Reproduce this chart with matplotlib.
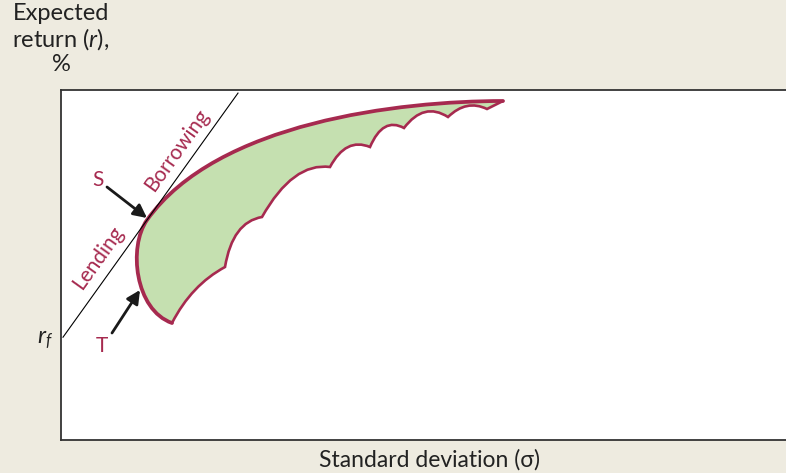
import matplotlib
matplotlib.use("Agg")
import matplotlib.pyplot as plt
from matplotlib.path import Path
from matplotlib.patches import PathPatch

plt.rcParams['font.family'] = ['Lato', 'DejaVu Sans']
plt.rcParams['mathtext.fontset'] = 'custom'
plt.rcParams['mathtext.rm'] = 'Lato'
plt.rcParams['mathtext.it'] = 'Lato:italic'

bg = '#eeebe0'
crimson = '#a62a4f'
green = '#c5e0b0'

# chart units: sigma 0..725, return 0..350 (schematic)
rf = 100
tangent_x = [2, 177]
tangent_slope = 1.395

# outer frontier: bottom tip -> left bulge -> S (tangency) -> right tip  (cubic bezier controls)
frontier_pts = [(111, 117), (74, 130), (67, 193), (86, 220),
                (156, 318), (339, 339), (442, 339)]
# lower scalloped boundary: right tip back to bottom tip (quadratic controls)
cusps = [(426, 331), (387, 323), (343, 312), (309, 293), (269, 273),
         (201, 223), (164, 173), (111, 117)]
bumps = [(405.5, 341), (363, 338.5), (322, 323.5), (285, 303),
         (232, 278), (171.5, 218), (130.5, 155)]

S_point = (86, 222)
T_point = (79, 150)

fig = plt.figure(figsize=(7.86, 4.73), dpi=100, facecolor=bg)
ax = fig.add_axes([61 / 786, 33 / 473, 725 / 786, 350 / 473])
ax.set_xlim(0, 725)
ax.set_ylim(0, 350)
ax.set_facecolor('white')

# build paths
outer_verts = list(frontier_pts)
outer_codes = [Path.MOVETO] + [Path.CURVE4] * 6
lower_verts = [frontier_pts[-1], cusps[0]]
lower_codes = [Path.MOVETO, Path.LINETO]
for b, c in zip(bumps, cusps[1:]):
    lower_verts += [b, c]
    lower_codes += [Path.CURVE3, Path.CURVE3]

fill_path = Path(outer_verts + lower_verts[1:],
                 outer_codes + lower_codes[1:])
ax.add_patch(PathPatch(fill_path, facecolor=green, edgecolor='none', zorder=1))
ax.add_patch(PathPatch(Path(lower_verts, lower_codes), facecolor='none',
                       edgecolor=crimson, lw=1.9, zorder=2, capstyle='round'))
ax.add_patch(PathPatch(Path(outer_verts, outer_codes), facecolor='none',
                       edgecolor=crimson, lw=2.7, zorder=3, capstyle='round'))

# capital market line
ty = [rf + tangent_slope * x for x in tangent_x]
ax.plot(tangent_x, ty, color='black', lw=0.8, zorder=4)

# arrows and labels
ax.annotate('', xy=S_point, xytext=(46, 253),
            arrowprops=dict(arrowstyle='-|>', color='#1a1a1a', lw=2,
                            mutation_scale=20, shrinkA=0, shrinkB=0), zorder=5)
ax.annotate('', xy=T_point, xytext=(51, 107),
            arrowprops=dict(arrowstyle='-|>', color='#1a1a1a', lw=2,
                            mutation_scale=20, shrinkA=0, shrinkB=0), zorder=5)
ax.text(37, 260, 'S', color=crimson, fontsize=15, ha='center', va='center')
ax.text(41, 94, 'T', color=crimson, fontsize=15, ha='center', va='center')
ax.text(37, 182, 'Lending', color=crimson, fontsize=15, rotation=54.4,
        rotation_mode='anchor', ha='center', va='center')
ax.text(116, 290, 'Borrowing', color=crimson, fontsize=15, rotation=54.4,
        rotation_mode='anchor', ha='center', va='center')
ax.text(-8, rf, '$r_f$', fontsize=17, ha='right', va='center', color='#222222')

for side in ['left', 'top', 'bottom']:
    ax.spines[side].set_color('#333333')
    ax.spines[side].set_linewidth(1.3)
ax.spines['right'].set_visible(False)
ax.set_xticks([])
ax.set_yticks([])

fig.text(61 / 786, 1 - 3 / 473, 'Expected\nreturn ($\\it{r}$),\n%', fontsize=17,
         ha='center', va='top', multialignment='center', color='#222222',
         linespacing=1.1)
fig.text(430 / 786, 1 - 460 / 473, 'Standard deviation (σ)', fontsize=16.5,
         ha='center', va='center', color='#222222')

fig.savefig('out.png', dpi=100, facecolor=bg)
